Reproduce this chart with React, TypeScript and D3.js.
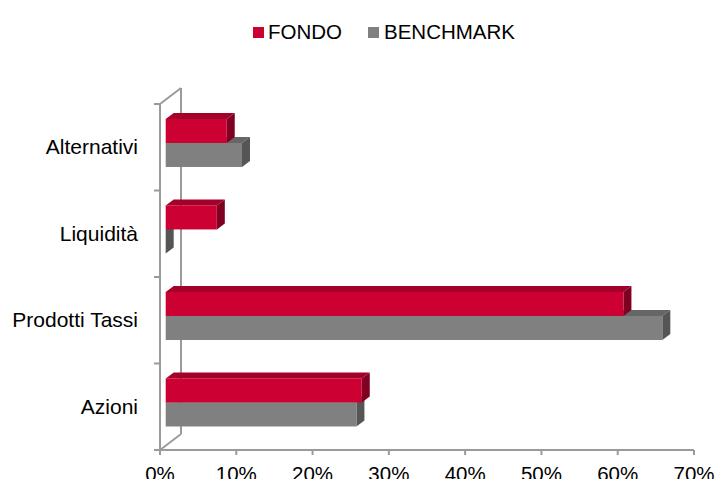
import React from "react";
import { scaleLinear, scaleBand } from "d3";

const categories = ["Alternativi", "Liquidità", "Prodotti Tassi", "Azioni"];
const seriesNames = ["BENCHMARK", "FONDO"]; // drawn gray first, red on top
const fondo = [8.0, 6.7, 60.0, 25.7];
const benchmark = [10.0, 0, 65.1, 25.0];
const xTicks = [0, 10, 20, 30, 40, 50, 60, 70];
const legendItems = ["FONDO", "BENCHMARK"];

const WIDTH = 716;
const HEIGHT = 479;
const FONT = "'Liberation Sans', Arial, sans-serif";

// 3d offsets
const WALL = { dx: 21, dy: -16 };
const BAR_FRONT = { dx: 5.7, dy: -4.3 };
const BAR_DEPTH = { dx: 8, dy: -6 };

const colors: Record<string, { front: string; top: string; side: string }> = {
  FONDO: { front: "#cc0033", top: "#a3002a", side: "#7f0020" },
  BENCHMARK: { front: "#808080", top: "#666666", side: "#555555" },
};

const App = () => {
  const x = scaleLinear().domain([0, 70]).range([160, 694]);
  const y = scaleBand().domain(categories).range([104, 450]);
  const inner = scaleBand()
    .domain(["FONDO", "BENCHMARK"])
    .range([0, y.bandwidth()])
    .paddingOuter(0.8);

  const axisColor = "#9a9a9a";
  const top = y.range()[0];
  const bottom = y.range()[1];

  const bars: JSX.Element[] = [];
  categories.forEach((cat, i) => {
    seriesNames.forEach((s) => {
      const v = s === "FONDO" ? fondo[i] : benchmark[i];
      const x0 = x(0) + BAR_FRONT.dx;
      const x1 = x(v) + BAR_FRONT.dx;
      const yt = (y(cat) as number) + (inner(s) as number) + BAR_FRONT.dy;
      const yb = yt + inner.bandwidth();
      const c = colors[s];
      const dx = BAR_DEPTH.dx;
      const dy = BAR_DEPTH.dy;
      bars.push(
        <g key={cat + s}>
          <polygon
            points={`${x0},${yt} ${x1},${yt} ${x1 + dx},${yt + dy} ${x0 + dx},${yt + dy}`}
            fill={c.top}
          />
          <polygon
            points={`${x1},${yt} ${x1 + dx},${yt + dy} ${x1 + dx},${yb + dy} ${x1},${yb}`}
            fill={c.side}
          />
          {v > 0 && <rect x={x0} y={yt} width={x1 - x0} height={yb - yt} fill={c.front} />}
        </g>
      );
    });
  });

  return (
    <svg
      width={WIDTH}
      height={HEIGHT}
      style={{ position: "absolute", left: 0, top: 0, background: "#fff" }}
      fontFamily={FONT}
    >
      {/* walls */}
      <g stroke={axisColor} strokeWidth={2} fill="none">
        <line x1={x(0)} y1={top} x2={x(0)} y2={bottom} />
        <line x1={x(0)} y1={top} x2={x(0) + WALL.dx} y2={top + WALL.dy} />
        <line x1={x(0) + WALL.dx} y1={top + WALL.dy} x2={x(0) + WALL.dx} y2={bottom + WALL.dy} />
        <line x1={x(0)} y1={bottom} x2={x(0) + WALL.dx} y2={bottom + WALL.dy} />
        <line x1={x(0)} y1={bottom} x2={x(70)} y2={bottom} />
        {[...categories.map((c) => y(c) as number), bottom].map((t, i) => (
          <line key={"yt" + i} x1={x(0) - 6} y1={t} x2={x(0)} y2={t} />
        ))}
        {xTicks.map((t) => (
          <line key={"xt" + t} x1={x(t)} y1={bottom} x2={x(t)} y2={bottom + 5} />
        ))}
      </g>
      {bars}
      {categories.map((c) => (
        <text
          key={c}
          x={138}
          y={(y(c) as number) + y.bandwidth() / 2 + 7}
          textAnchor="end"
          fontSize={21}
          fill="#000"
        >
          {c}
        </text>
      ))}
      {xTicks.map((t) => (
        <text key={"xl" + t} x={x(t)} y={481} textAnchor="middle" fontSize={20.5} fill="#000">
          {t + "%"}
        </text>
      ))}
      {/* legend */}
      <g>
        <rect x={253} y={27} width={11} height={11} fill={colors[legendItems[0]].front} />
        <text x={268} y={38.5} fontSize={20.5} fill="#000">
          {legendItems[0]}
        </text>
        <rect x={368} y={27} width={11} height={11} fill={colors[legendItems[1]].front} />
        <text x={384} y={38.5} fontSize={20.5} fill="#000">
          {legendItems[1]}
        </text>
      </g>
    </svg>
  );
};

export default App;
